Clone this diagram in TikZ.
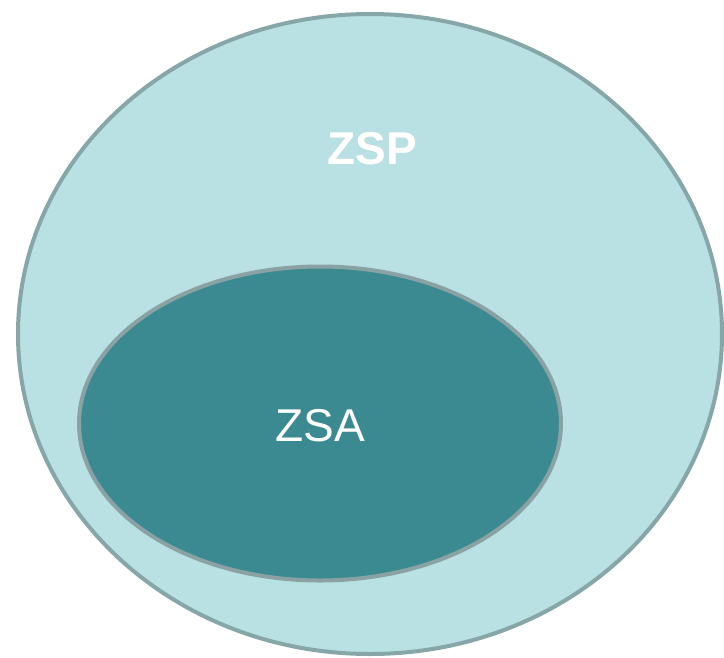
\documentclass[tikz,border=0pt]{standalone}
\usepackage{fontspec}
\setmainfont{Liberation Sans}
\definecolor{outerfill}{HTML}{B9E0E3}
\definecolor{outerline}{HTML}{86A6A8}
\definecolor{innerfill}{HTML}{3B8A91}
\definecolor{innerline}{HTML}{8AA2A4}
\begin{document}
\begin{tikzpicture}[x=1pt,y=-1pt,
  setlabel/.style={text=white,inner sep=0pt,font=\fontsize{46}{55}\selectfont}]
\useasboundingbox (0,0) rectangle (724,657);
\fill[white] (0,0) rectangle (724,657);
\draw[fill=outerfill,draw=outerline,line width=4pt] (370,334) ellipse [x radius=352, y radius=320];
\draw[fill=innerfill,draw=innerline,line width=4pt] (320,423.5) ellipse [x radius=241, y radius=157];
\node[setlabel,font=\fontsize{46}{55}\selectfont\bfseries] (zsp) at (372.5,148.5) {ZSP};
\node[setlabel] (zsa) at (320.5,425.5) {ZSA};
\end{tikzpicture}
\end{document}
